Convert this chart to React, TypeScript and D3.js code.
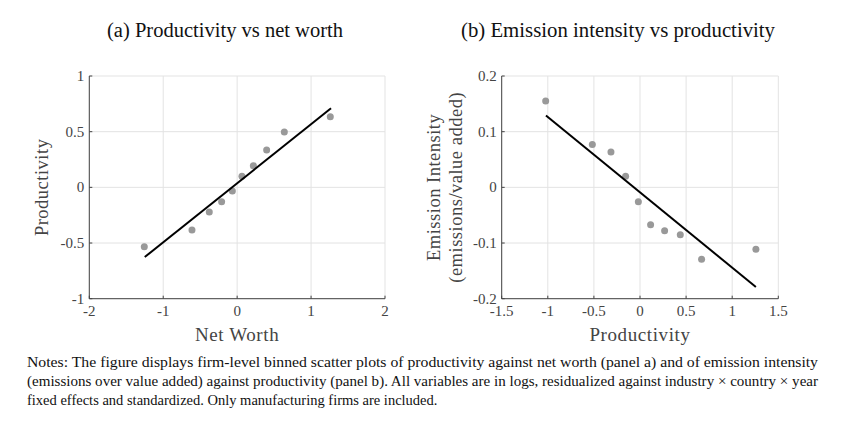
import { useEffect } from 'react'
import * as d3 from 'd3'

// panel (a): productivity vs net worth
const netWorth = [-1.256, -0.611, -0.377, -0.21, -0.065, 0.065, 0.219, 0.399, 0.638, 1.26]
const prodA = [-0.533, -0.383, -0.222, -0.129, -0.033, 0.099, 0.195, 0.335, 0.497, 0.635]
const fitA: [number, number][] = [[-1.25, -0.626], [1.27, 0.71]]
const xTicksA = [-2, -1, 0, 1, 2]
const yTicksA = [-1, -0.5, 0, 0.5, 1]

// panel (b): emission intensity vs productivity
const prodB = [-1.023, -0.517, -0.315, -0.156, -0.018, 0.115, 0.267, 0.437, 0.668, 1.257]
const emisB = [0.155, 0.077, 0.0635, 0.02, -0.026, -0.067, -0.078, -0.085, -0.129, -0.111]
const fitB: [number, number][] = [[-1.02, 0.129], [1.257, -0.179]]
const xTicksB = [-1.5, -1, -0.5, 0, 0.5, 1, 1.5]
const yTicksB = [-0.2, -0.1, 0, 0.1, 0.2]

const notes = [
  'Notes: The figure displays firm-level binned scatter plots of productivity against net worth (panel a) and of emission intensity',
  '(emissions over value added) against productivity (panel b). All variables are in logs, residualized against industry × country × year',
  'fixed effects and standardized. Only manufacturing firms are included.',
]

const W = 843
const H = 425
const top = 76
const bottom = 298.7
const serif = 'Liberation Serif, DejaVu Serif, serif'
const axisColor = '#444'
const labelColor = '#444'
const gridColor = '#e3e3e3'

interface PanelProps {
  left: number
  right: number
  xDomain: [number, number]
  yDomain: [number, number]
  xTicks: number[]
  yTicks: number[]
  xs: number[]
  ys: number[]
  fit: [number, number][]
  title: string
  titleX: number
  titleLen: number
  xLabel: string
  yLabel: string[]
  yLabelX: number
}

function Panel(p: PanelProps) {
  const x = d3.scaleLinear().domain(p.xDomain).range([p.left, p.right])
  const y = d3.scaleLinear().domain(p.yDomain).range([bottom, top])
  const line = d3.line<[number, number]>().x(d => x(d[0])).y(d => y(d[1]))
  const cx = (p.left + p.right) / 2
  const cy = (top + bottom) / 2
  return (
    <g>
      {/* grid */}
      {p.xTicks.map(t => (
        <line key={'gx' + t} x1={x(t)} x2={x(t)} y1={top} y2={bottom} stroke={gridColor} strokeWidth={1} />
      ))}
      {p.yTicks.map(t => (
        <line key={'gy' + t} x1={p.left} x2={p.right} y1={y(t)} y2={y(t)} stroke={gridColor} strokeWidth={1} />
      ))}
      {/* axes */}
      <line x1={p.left} x2={p.right} y1={bottom} y2={bottom} stroke={axisColor} strokeWidth={1} />
      <line x1={p.left} x2={p.left} y1={top} y2={bottom} stroke={axisColor} strokeWidth={1} />
      {p.xTicks.map(t => (
        <g key={'tx' + t}>
          <line x1={x(t)} x2={x(t)} y1={bottom} y2={bottom - 3} stroke={axisColor} />
          <text x={x(t)} y={bottom + 17} textAnchor="middle" fontSize={15} fill={labelColor} fontFamily={serif}>
            {t}
          </text>
        </g>
      ))}
      {p.yTicks.map(t => (
        <g key={'ty' + t}>
          <line x1={p.left} x2={p.left + 3} y1={y(t)} y2={y(t)} stroke={axisColor} />
          <text x={p.left - 5} y={y(t) + 5} textAnchor="end" fontSize={15} fill={labelColor} fontFamily={serif}>
            {t}
          </text>
        </g>
      ))}
      {/* points */}
      {p.xs.map((v, i) => (
        <circle key={'p' + i} cx={x(v)} cy={y(p.ys[i])} r={3.5} fill="#999" />
      ))}
      <path d={line(p.fit) || ''} stroke="#000" strokeWidth={2} fill="none" />
      {/* labels */}
      <text x={cx} y={bottom + 42} textAnchor="middle" fontSize={19} fill={labelColor} fontFamily={serif} letterSpacing={0.6}>
        {p.xLabel}
      </text>
      {p.yLabel.map((l, i) => (
        <text
          key={'yl' + i}
          transform={`translate(${p.yLabelX + i * 22},${cy}) rotate(-90)`}
          textAnchor="middle"
          fontSize={18.5}
          fill={labelColor}
          fontFamily={serif}
          letterSpacing={0.5}
        >
          {l}
        </text>
      ))}
      <text
        x={p.titleX}
        y={37}
        textAnchor="middle"
        fontSize={20}
        fill="#111"
        fontFamily={serif}
        textLength={p.titleLen}
        lengthAdjust="spacingAndGlyphs"
      >
        {p.title}
      </text>
    </g>
  )
}

export default function App() {
  useEffect(() => {
    document.body.style.margin = '0'
  }, [])
  return (
    <svg width={W} height={H} style={{ display: 'block', background: '#fff' }}>
      <Panel
        left={89.3}
        right={385}
        xDomain={[-2, 2]}
        yDomain={[-1, 1]}
        xTicks={xTicksA}
        yTicks={yTicksA}
        xs={netWorth}
        ys={prodA}
        fit={fitA}
        title="(a) Productivity vs net worth"
        titleX={225}
        titleLen={236}
        xLabel="Net Worth"
        yLabel={['Productivity']}
        yLabelX={48}
      />
      <Panel
        left={501.7}
        right={778.3}
        xDomain={[-1.5, 1.5]}
        yDomain={[-0.2, 0.2]}
        xTicks={xTicksB}
        yTicks={yTicksB}
        xs={prodB}
        ys={emisB}
        fit={fitB}
        title="(b) Emission intensity vs productivity"
        titleX={618}
        titleLen={314}
        xLabel="Productivity"
        yLabel={['Emission Intensity', '(emissions/value added)']}
        yLabelX={440}
      />
      {notes.map((n, i) => (
        <text
          key={'n' + i}
          x={27}
          y={367 + i * 19}
          fontSize={14.5}
          fill="#111"
          fontFamily={serif}
          textLength={i < 2 ? 791 : undefined}
          lengthAdjust="spacingAndGlyphs"
        >
          {n}
        </text>
      ))}
    </svg>
  )
}
